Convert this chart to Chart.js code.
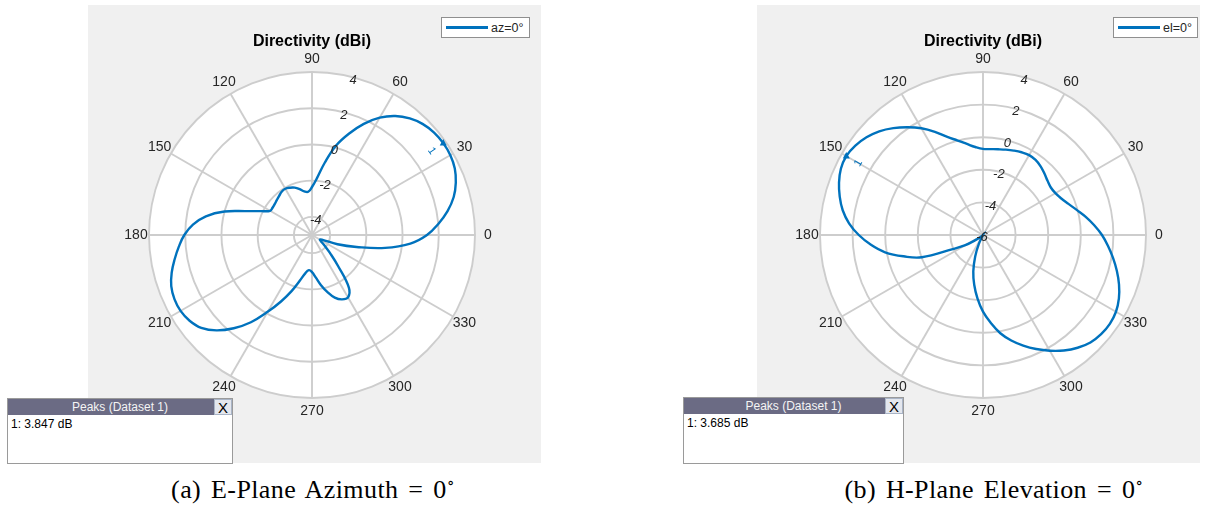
<!DOCTYPE html>
<html>
<head>
<meta charset="utf-8">
<script src="https://cdn.jsdelivr.net/npm/chart.js@4.4.0/dist/chart.umd.min.js"></script>
<style>
  html, body { margin: 0; padding: 0; background: #ffffff; }
  body { width: 1209px; height: 509px; position: relative; overflow: hidden;
         font-family: "Liberation Sans", Arial, sans-serif; }
  .panel { position: absolute; background: #f0f0f0; }
  canvas { position: absolute; }
  .legend { position: absolute; background: #ffffff; border: 1px solid #8f8f8f; box-sizing: border-box;
            height: 21px; font-size: 12.5px; color: #262626; display: flex; align-items: center; white-space: nowrap; }
  .legend .swatch { display: inline-block; width: 42px; height: 2.5px; background: #0072bd; margin: 0 3px 0 4px; }
  .peaks { position: absolute; background: #ffffff; border: 1px solid #9a9a9a; box-sizing: border-box; font-size: 12px; }
  .peaks .hdr { height: 16px; background: #6b6b84; color: #f4f4f4; position: relative; text-align: center; line-height: 16px; }
  .peaks .x { position: absolute; right: 0; top: 0; width: 18px; height: 16px; background: #e4e7ee; color: #000;
              font-size: 15px; line-height: 16px; text-align: center; border: 1px solid #a9b4c6; box-sizing: border-box; }
  .peaks .row { padding: 2px 0 0 3px; color: #000; }
  .cap { position: absolute; top: 475px; font-family: "Liberation Serif", "DejaVu Serif", serif; font-size: 26px;
         color: #000; white-space: nowrap; transform: translateX(-50%); letter-spacing: 0.4px; word-spacing: 3px; }
  .cap sup { font-size: 16px; vertical-align: 10px; line-height: 0; }
</style>
</head>
<body>
<div class="panel" style="left:88px; top:5px; width:453px; height:458px;"></div>
<div class="panel" style="left:757px; top:5px; width:443px; height:458px;"></div>
<canvas id="ePlane" width="448" height="458" style="left:88px; top:5px;"></canvas>
<canvas id="hPlane" width="452" height="458" style="left:757px; top:5px;"></canvas>
<div class="legend" id="legE" style="left:441px; top:17px; width:89px;"></div>
<div class="legend" id="legH" style="left:1113px; top:17px; width:85px;"></div>
<div class="peaks" id="peaksE" style="left:7px; top:398px; width:226px; height:66px;"></div>
<div class="peaks" id="peaksH" style="left:683px; top:397px; width:221px; height:67px;"></div>
<div class="cap" style="left:313px;">(a) E-Plane Azimuth = 0<sup>∘</sup></div>
<div class="cap" style="left:994px;">(b) H-Plane Elevation = 0<sup>∘</sup></div>

<script>
// Angle of each sample, degrees counterclockwise from the 0 direction
const angles = [0, 5, 10, 15, 20, 25, 30, 35, 40, 45, 50, 55, 60, 65, 70, 75, 80, 85,
  90, 95, 100, 105, 110, 115, 120, 125, 130, 135, 140, 145, 150, 155, 160, 165, 170, 175,
  180, 185, 190, 195, 200, 205, 210, 215, 220, 225, 230, 235, 240, 245, 250, 255, 260, 265,
  270, 275, 280, 285, 290, 295, 300, 305, 310, 315, 320, 325, 330, 335, 340, 345, 350, 355];

// E-plane (azimuth 0) directivity, dBi
const eValues = [1.35, 2.0, 2.6, 3.1, 3.45, 3.7, 3.82, 3.847, 3.8, 3.66, 3.4, 3.02, 2.48, 1.77,
  0.95, 0.1, -0.95, -1.85, -2.35, -2.6, -2.55, -2.38, -2.22, -2.12, -2.05, -2.08, -2.18, -2.26,
  -2.32, -2.35, -2.33, -1.88, -1.15, 0.0, 0.95, 1.6, 2.05, 2.38, 2.7, 3.02, 3.27, 3.38, 3.38,
  3.25, 2.98, 2.45, 1.72, 0.88, -0.1, -0.95, -1.7, -2.38, -2.85, -3.05, -2.95, -2.65, -2.2, -1.75,
  -1.32, -1.08, -1.02, -1.45, -2.75, -3.6, -4.1, -4.4, -4.5, -4.4, -3.5, -2.45, -0.9, 0.45];

// H-plane (elevation 0) directivity, dBi
const hValues = [1.3, 0.85, 0.4, -0.05, -0.42, -0.7, -0.87, -0.92, -0.83, -0.67, -0.5, -0.38,
  -0.34, -0.4, -0.49, -0.58, -0.66, -0.71, -0.72, -0.58, -0.33, 0.0, 0.4, 0.98, 1.56, 2.07, 2.56,
  3.0, 3.33, 3.56, 3.685, 3.62, 3.4, 3.1, 2.74, 2.25, 1.62, 0.9, 0.1, -0.95, -2.0, -3.95, -4.75,
  -5.5, -5.85, -6.0, -6.0, -6.0, -6.0, -5.4, -4.6, -3.7, -2.9, -2.1, -1.3, -0.6, 0.12, 0.7, 1.22,
  1.72, 2.2, 2.65, 3.03, 3.32, 3.46, 3.5, 3.42, 3.2, 2.88, 2.5, 2.1, 1.7];

// Angle tick labels and radial ring values
const angleTicks = [0, 30, 60, 90, 120, 150, 180, 210, 240, 270, 300, 330];
const eRings = [-4, -2, 0, 2, 4];
const hRings = [-6, -4, -2, 0, 2, 4];
const eRange = [-5, 4];
const hRange = [-6, 4];
const ringLabelAngle = 75;

const BLUE = '#0072BD';
const GRID = '#cdcdcd';
const TEXT = '#262626';

// Radar indices run clockwise; reorder so index i sits at angle (360 - 5i) mod 360
function toChartOrder(arr) {
  const n = arr.length;
  return arr.map((_, i) => arr[(n - i) % n]);
}
const chartAngles = toChartOrder(angles);

function peakOf(values) {
  let k = 0;
  values.forEach((v, i) => { if (v > values[k]) k = i; });
  return { angle: angles[k], value: values[k] };
}

const polarDecor = {
  id: 'polarDecor',
  beforeDraw(chart) {
    const s = chart.scales.r;
    const ctx = chart.ctx;
    ctx.save();
    ctx.fillStyle = '#ffffff';
    ctx.beginPath();
    ctx.arc(s.xCenter, s.yCenter, s.drawingArea, 0, Math.PI * 2);
    ctx.fill();
    ctx.restore();
  },
  afterDatasetsDraw(chart, args, opts) {
    const s = chart.scales.r;
    const ctx = chart.ctx;
    ctx.save();
    ctx.textAlign = 'center';
    ctx.textBaseline = 'middle';
    // angle labels round the outer ring
    ctx.fillStyle = TEXT;
    ctx.font = '14px "Liberation Sans", Arial, sans-serif';
    angleTicks.forEach(a => {
      const p = s.getPointPosition(chartAngles.indexOf(a), s.drawingArea + 13);
      ctx.fillText(String(a), p.x, p.y);
    });
    // ring values along one spoke
    ctx.font = 'italic 13px "Liberation Sans", Arial, sans-serif';
    const iRing = chartAngles.indexOf(ringLabelAngle);
    opts.rings.forEach(v => {
      const p = s.getPointPosition(iRing, s.getDistanceFromCenterForValue(v));
      ctx.fillText(String(v), p.x - 1, p.y + 2.5);
    });
    // peak marker
    const pk = peakOf(opts.values);
    const idx = chartAngles.indexOf(pk.angle);
    const el = chart.getDatasetMeta(0).data[idx];
    ctx.fillStyle = BLUE;
    ctx.beginPath();
    ctx.moveTo(el.x, el.y - 4);
    ctx.lineTo(el.x - 3.5, el.y + 2.5);
    ctx.lineTo(el.x + 3.5, el.y + 2.5);
    ctx.closePath();
    ctx.fill();
    const lp = s.getPointPosition(idx, s.getDistanceFromCenterForValue(pk.value) - 14);
    ctx.translate(lp.x, lp.y);
    ctx.rotate((90 - pk.angle) * Math.PI / 180);
    ctx.font = '11px "Liberation Sans", Arial, sans-serif';
    ctx.fillText('1', 0, 0);
    ctx.restore();
  }
};

function makeChart(id, values, rings, range, label, padLR) {
  return new Chart(document.getElementById(id), {
    type: 'radar',
    data: {
      labels: chartAngles,
      datasets: [{
        label: label,
        data: toChartOrder(values),
        borderColor: BLUE,
        borderWidth: 2.4,
        backgroundColor: 'rgba(0,0,0,0)',
        fill: false,
        pointRadius: 0,
        pointHoverRadius: 0,
        tension: 0.4
      }]
    },
    options: {
      responsive: false,
      animation: false,
      events: [],
      layout: { padding: { left: padLR, right: padLR, top: 21, bottom: 64 } },
      plugins: {
        legend: { display: false },
        tooltip: { enabled: false },
        title: {
          display: true,
          text: 'Directivity (dBi)',
          color: '#000000',
          font: { family: '"Liberation Sans", Arial, sans-serif', size: 16, weight: 'bold' },
          padding: { top: 6.4, bottom: 20.4 }
        },
        polarDecor: { rings: rings, values: values }
      },
      scales: {
        r: {
          min: range[0],
          max: range[1],
          startAngle: 90,
          afterBuildTicks: sc => { sc.ticks = rings.map(v => ({ value: v })); },
          ticks: { display: false },
          grid: { circular: true, color: GRID, lineWidth: 1.9 },
          angleLines: {
            display: true,
            color: GRID,
            lineWidth: c => (angleTicks.includes(Number(c.label)) ? 1.9 : 0)
          },
          pointLabels: { display: false }
        }
      }
    },
    plugins: [polarDecor]
  });
}

function fillLegend(elId, label) {
  const el = document.getElementById(elId);
  el.innerHTML = '<span class="swatch"></span><span>' + label + '</span>';
}
function fillPeaks(elId, values) {
  const pk = peakOf(values);
  document.getElementById(elId).innerHTML =
    '<div class="hdr">Peaks (Dataset 1)<div class="x">X</div></div>' +
    '<div class="row">1: ' + pk.value.toFixed(3) + ' dB</div>';
}

makeChart('ePlane', eValues, eRings, eRange, 'az=0°', 60.5);
makeChart('hPlane', hValues, hRings, hRange, 'el=0°', 62.5);
fillLegend('legE', 'az=0°');
fillLegend('legH', 'el=0°');
fillPeaks('peaksE', eValues);
fillPeaks('peaksH', hValues);
</script>
</body>
</html>
